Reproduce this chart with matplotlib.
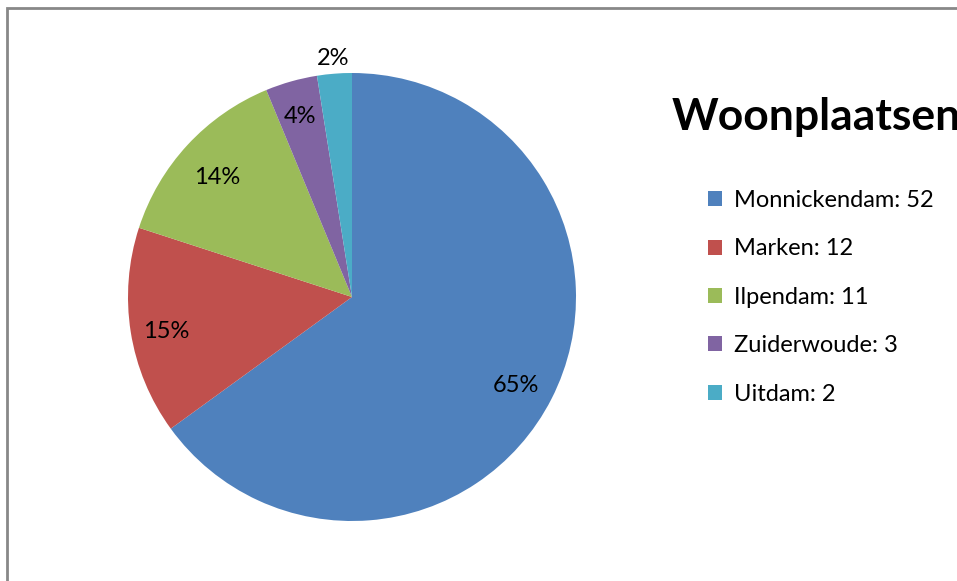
import numpy as np
import matplotlib.pyplot as plt
import matplotlib.transforms as mtransforms
from matplotlib.patches import Rectangle

places = ['Monnickendam', 'Marken', 'Ilpendam', 'Zuiderwoude', 'Uitdam']
counts = [52, 12, 11, 3, 2]
colors = ['#4F81BD', '#C0504D', '#9BBB59', '#8064A2', '#4BACC6']

plt.rcParams['font.family'] = ['Lato', 'DejaVu Sans']

W, H = 957, 581
fig = plt.figure(figsize=(W / 100, H / 100), dpi=100)

# pie centre (352, 297) px, radius 224 px
cx, cy, r = 352, 297, 224
ax = fig.add_axes([(cx - r) / W, (H - cy - r) / H, 2 * r / W, 2 * r / H])

wedges, texts, autotexts = ax.pie(
    counts, colors=colors, startangle=90, counterclock=False,
    autopct=lambda p: f"{p:.0f}%", pctdistance=0.82,
    wedgeprops=dict(linewidth=0),
    textprops=dict(fontsize=17, color='black'))
ax.set_xlim(-1, 1)
ax.set_ylim(-1, 1)
ax.set_aspect('equal')

# small slice labels sit a bit further out, the tiniest outside the pie
dist = [0.82, 0.84, 0.82, 0.86, 1.09]
shift = mtransforms.offset_copy(ax.transData, fig=fig, x=0, y=-5, units='dots')
for w, t, d in zip(wedges, autotexts, dist):
    mid = np.deg2rad((w.theta1 + w.theta2) / 2)
    t.set_position((d * np.cos(mid), d * np.sin(mid)))
    t.set_transform(shift)
    t.set_clip_on(False)

fig.text(672 / W, 1 - 117 / H, 'Woonplaatsen', fontsize=32, fontweight='bold',
         ha='left', va='center')

labels = [f"{p}: {c}" for p, c in zip(places, counts)]
fig.legend(wedges, labels, loc='upper left', bbox_to_anchor=(708 / W, 1 - 190 / H),
           frameon=False, fontsize=17, handlelength=0.6, handleheight=0.6,
           handletextpad=0.5, labelspacing=1.16, borderaxespad=0, borderpad=0)

# chart frame (left and top edge visible)
fig.patches.append(Rectangle((7.5 / W, -0.1), 1.2, 1.1 - 8 / H,
                             transform=fig.transFigure, fill=False,
                             edgecolor='#888888', linewidth=2))

fig.savefig('out.png', dpi=100)
